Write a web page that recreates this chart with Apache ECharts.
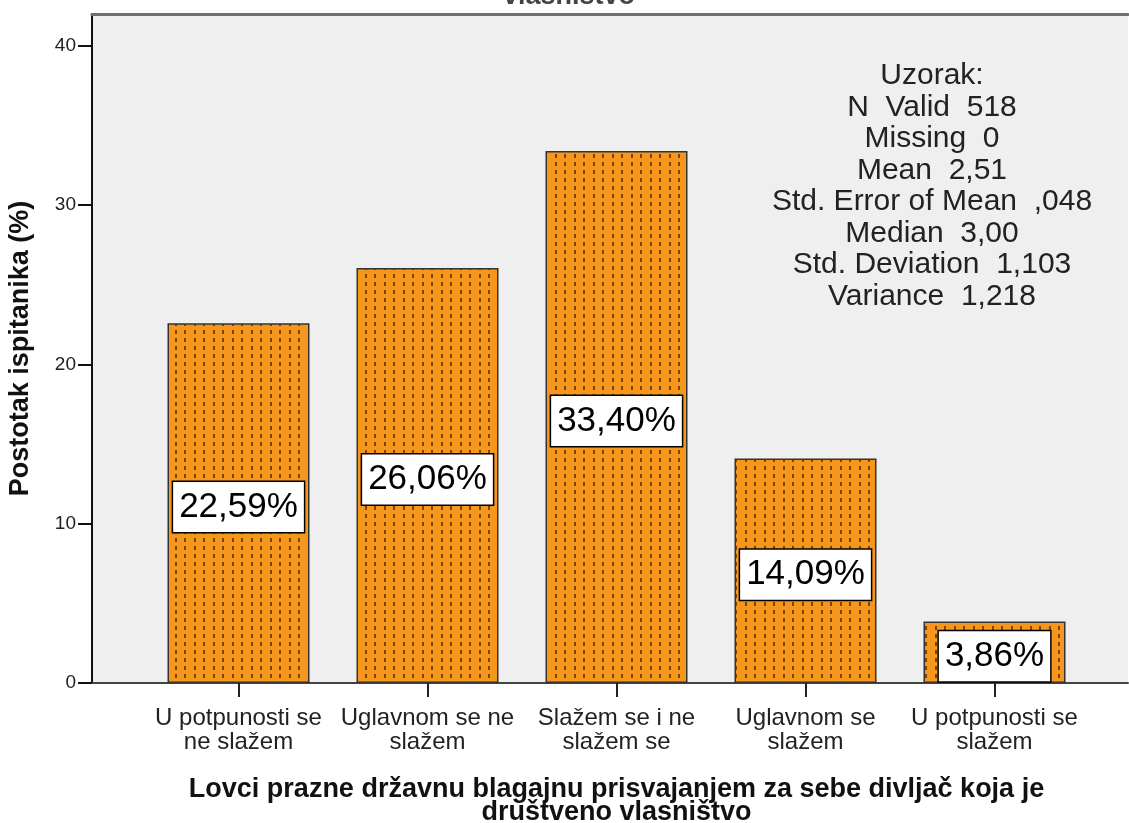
<!DOCTYPE html>
<html>
<head>
<meta charset="utf-8">
<script src="https://cdn.jsdelivr.net/npm/echarts@6/dist/echarts.min.js"></script>
<style>
  html, body { margin: 0; padding: 0; background: #ffffff; }
  #chart { width: 1129px; height: 823px; }
</style>
</head>
<body>
<div id="chart"></div>
<script>
// Response categories (x axis)
const categories = [
  'U potpunosti se\nne slažem',
  'Uglavnom se ne\nslažem',
  'Slažem se i ne\nslažem se',
  'Uglavnom se\nslažem',
  'U potpunosti se\nslažem'
];
// Share of respondents per category, in percent
const percentages = [22.59, 26.06, 33.40, 14.09, 3.86];
// Y axis tick values
const yTicks = [0, 10, 20, 30, 40];
// Sample statistics box
const statsLines = [
  'Uzorak:',
  'N  Valid  518',
  'Missing  0',
  'Mean  2,51',
  'Std. Error of Mean  ,048',
  'Median  3,00',
  'Std. Deviation  1,103',
  'Variance  1,218'
];
const yAxisTitle = 'Postotak ispitanika (%)';
const xAxisTitle = 'Lovci prazne državnu blagajnu prisvajanjem za sebe divljač koja je\ndruštveno vlasništvo';
const chartTitleTail = 'vlasništvo';

const FONT = '"Liberation Sans", Arial, sans-serif';

// Orange fill with small dark vertical dashes
function dottedFill() {
  const c = document.createElement('canvas');
  c.width = 19; c.height = 8;
  const g = c.getContext('2d');
  g.fillStyle = '#f7961d';
  g.fillRect(0, 0, 19, 8);
  g.fillStyle = '#7a4604';
  g.fillRect(4, 2, 2, 4);
  g.fillRect(13, 2, 2, 4);
  return c;
}

const fmtPct = v => v.toFixed(2).replace('.', ',') + '%';

const chart = echarts.init(document.getElementById('chart'), null, { renderer: 'canvas' });

chart.setOption({
  animation: false,
  backgroundColor: '#ffffff',
  textStyle: { fontFamily: FONT },
  grid: [
    // plot frame with grey background
    { left: 92, top: 14, width: 1036, height: 669, show: true, backgroundColor: '#efefef',
      borderWidth: 0, outerBoundsMode: 'none', containLabel: false },
    // bar area
    { left: 144, top: 14, width: 945, height: 669, outerBoundsMode: 'none', containLabel: false }
  ],
  xAxis: [
    {
      gridIndex: 0, type: 'value', min: 0, max: 1, position: 'bottom',
      axisLine: { show: true, onZero: false, lineStyle: { color: '#444', width: 2 } },
      axisTick: { show: false }, axisLabel: { show: false }, splitLine: { show: false }
    },
    {
      gridIndex: 0, type: 'value', min: 0, max: 1, position: 'top',
      axisLine: { show: true, onZero: false, lineStyle: { color: '#707070', width: 3 } },
      axisTick: { show: false }, axisLabel: { show: false }, splitLine: { show: false }
    },
    {
      gridIndex: 1, type: 'category', data: categories,
      axisLine: { show: false },
      axisTick: { show: true, alignWithLabel: true, length: 14, lineStyle: { color: '#222', width: 2 } },
      axisLabel: { interval: 0, margin: 23, fontSize: 24, lineHeight: 24, color: '#222', fontFamily: FONT },
      name: xAxisTitle, nameLocation: 'middle', nameGap: 95,
      nameTextStyle: { fontWeight: 'bold', fontSize: 27, lineHeight: 23, color: '#111', fontFamily: FONT }
    }
  ],
  yAxis: [
    {
      gridIndex: 0, type: 'value', min: 0, max: 42,
      axisLine: { show: true, onZero: false, lineStyle: { color: '#111', width: 2 } },
      axisTick: { show: true, length: 14, customValues: yTicks, lineStyle: { color: '#111', width: 2 } },
      axisLabel: { customValues: yTicks, margin: 16, fontSize: 19, color: '#222', fontFamily: FONT },
      splitLine: { show: false },
      name: yAxisTitle, nameLocation: 'middle', nameRotate: 90, nameGap: 58,
      nameTextStyle: { fontWeight: 'bold', fontSize: 27, color: '#111', fontFamily: FONT }
    },
    { gridIndex: 1, type: 'value', min: 0, max: 42, show: false }
  ],
  series: [
    {
      type: 'bar',
      xAxisIndex: 2, yAxisIndex: 1,
      data: percentages,
      barWidth: 142,
      itemStyle: {
        color: { image: dottedFill(), repeat: 'repeat' },
        borderColor: '#333', borderWidth: 1.5
      },
      label: {
        show: true, position: 'inside', offset: [0, 4],
        formatter: p => fmtPct(p.value),
        fontSize: 35, lineHeight: 38, color: '#000', fontFamily: FONT,
        backgroundColor: '#ffffff', borderColor: '#000', borderWidth: 1.5,
        padding: [6, 6, 6, 6]
      }
    }
  ],
  graphic: [
    {
      type: 'text', z: 100, x: 932, y: 60,
      style: {
        text: statsLines.join('\n'), align: 'center', verticalAlign: 'top',
        font: '30px ' + FONT, lineHeight: 31.5, fill: '#222'
      }
    },
    {
      type: 'text', z: 100, x: 569, y: 10,
      style: {
        text: chartTitleTail, align: 'center', verticalAlign: 'bottom',
        font: 'bold 27px ' + FONT, fill: '#444'
      }
    }
  ]
});
</script>
</body>
</html>
